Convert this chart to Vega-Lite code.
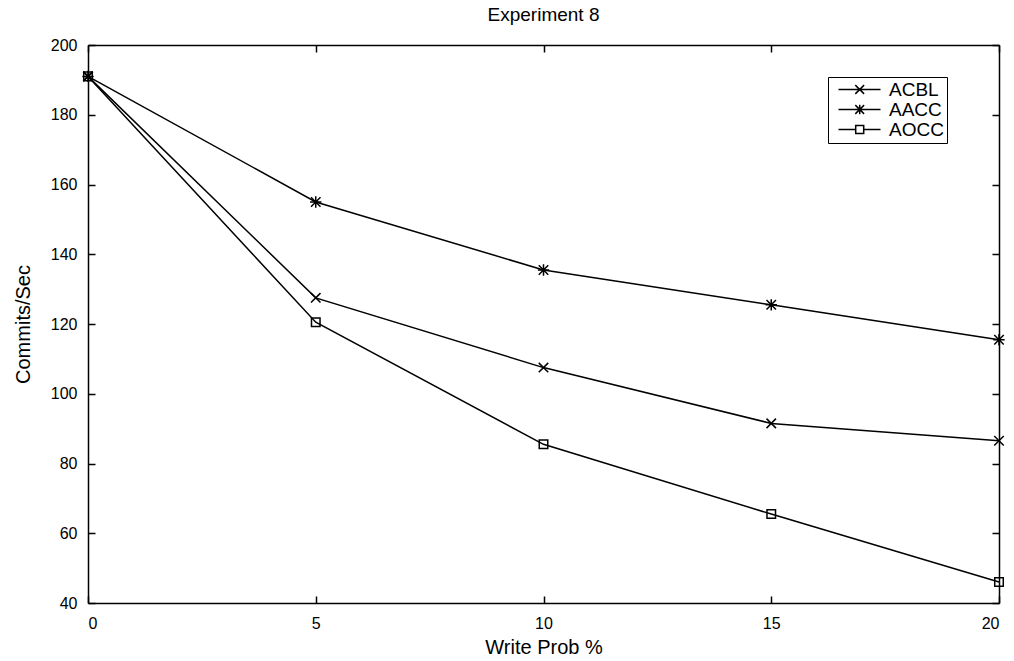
{
  "$schema": "https://vega.github.io/schema/vega-lite/v6.json",
  "width": 911,
  "height": 558,
  "autosize": "none",
  "padding": {"left": 88, "top": 45, "right": 15, "bottom": 58},
  "background": "white",
  "config": {
    "font": "Liberation Sans",
    "view": {"stroke": null},
    "axis": {"domainColor": "black", "domainWidth": 1.5, "tickColor": "black", "tickWidth": 1.5, "labelColor": "black", "titleColor": "black", "grid": false, "labelFont": "Liberation Sans", "titleFont": "Liberation Sans", "titleFontWeight": "normal", "labelFontSize": 16, "titleFontSize": 20}
  },
  "title": {"text": "Experiment 8", "fontSize": 19, "fontWeight": "normal", "font": "Liberation Sans", "color": "black", "offset": 12},
  "data": {"values": [
    {"x": 0, "y": 191, "series": "ACBL"},
    {"x": 5, "y": 127.5, "series": "ACBL"},
    {"x": 10, "y": 107.5, "series": "ACBL"},
    {"x": 15, "y": 91.5, "series": "ACBL"},
    {"x": 20, "y": 86.5, "series": "ACBL"},
    {"x": 0, "y": 191, "series": "AACC"},
    {"x": 5, "y": 155, "series": "AACC"},
    {"x": 10, "y": 135.5, "series": "AACC"},
    {"x": 15, "y": 125.5, "series": "AACC"},
    {"x": 20, "y": 115.5, "series": "AACC"},
    {"x": 0, "y": 191, "series": "AOCC"},
    {"x": 5, "y": 120.5, "series": "AOCC"},
    {"x": 10, "y": 85.5, "series": "AOCC"},
    {"x": 15, "y": 65.5, "series": "AOCC"},
    {"x": 20, "y": 46, "series": "AOCC"}
  ]},
  "resolve": {"scale": {"shape": "independent"}, "legend": {"shape": "independent"}},
  "layer": [
    {
      "mark": {"type": "line", "color": "black", "strokeWidth": 1.5},
      "encoding": {
        "x": {"field": "x", "type": "quantitative", "scale": {"domain": [0, 20], "nice": false, "zero": false},
              "axis": {"orient": "bottom", "values": [0, 5, 10, 15, 20], "tickSize": -7, "labelPadding": 19, "title": "Write Prob %", "titlePadding": 6}},
        "y": {"field": "y", "type": "quantitative", "scale": {"domain": [40, 200], "nice": false, "zero": false},
              "axis": {"orient": "left", "values": [40, 60, 80, 100, 120, 140, 160, 180, 200], "tickSize": -7, "labelPadding": 18, "title": "Commits/Sec", "titlePadding": 17}},
        "detail": {"field": "series"}
      }
    },
    {
      "mark": {"type": "point", "filled": false, "stroke": "black", "strokeWidth": 1.5, "opacity": 1, "size": 90},
      "encoding": {
        "x": {"field": "x", "type": "quantitative", "axis": {"orient": "top", "values": [0, 5, 10, 15, 20], "tickSize": -7, "labels": false, "title": null}},
        "y": {"field": "y", "type": "quantitative", "axis": {"orient": "right", "values": [40, 60, 80, 100, 120, 140, 160, 180, 200], "tickSize": -7, "labels": false, "title": null}},
        "shape": {"field": "series", "type": "nominal",
          "scale": {"domain": ["ACBL", "AACC", "AOCC"], "range": ["M-1,-1L1,1M-1,1L1,-1", "M-1,-1L1,1M-1,1L1,-1M-1.2,0L1.2,0M0,-1.2L0,1.2", "M-0.9,-0.9H0.9V0.9H-0.9Z"]},
          "legend": null
        }
      }
    },
    {
      "mark": {"type": "point", "filled": false, "stroke": "black", "strokeWidth": 1.5, "opacity": 0, "size": 64},
      "encoding": {
        "x": {"field": "x", "type": "quantitative", "axis": null},
        "y": {"field": "y", "type": "quantitative", "axis": null},
        "shape": {"field": "series", "type": "nominal",
          "scale": {"domain": ["ACBL", "AACC", "AOCC"], "range": ["M-0.5,0L10,0M3.7,-1.1L5.9,1.1M3.7,1.1L5.9,-1.1", "M-0.5,0L10,0M3.7,-1.1L5.9,1.1M3.7,1.1L5.9,-1.1M4.8,-1.2L4.8,1.2", "M-0.5,0L3.8,0M5.8,0L10,0M3.8,-1H5.8V1H3.8Z"]},
          "legend": {"orient": "none", "legendX": 740, "legendY": 32, "title": null, "fillColor": "white", "strokeColor": "black", "padding": 3,
            "labelFontSize": 19, "labelFont": "Liberation Sans", "labelColor": "black", "symbolSize": 64, "symbolStrokeWidth": 1.5, "symbolStrokeColor": "black", "symbolFillColor": "transparent", "symbolOpacity": 1, "rowPadding": -2, "labelOffset": 39}
        }
      }
    }
  ]
}
